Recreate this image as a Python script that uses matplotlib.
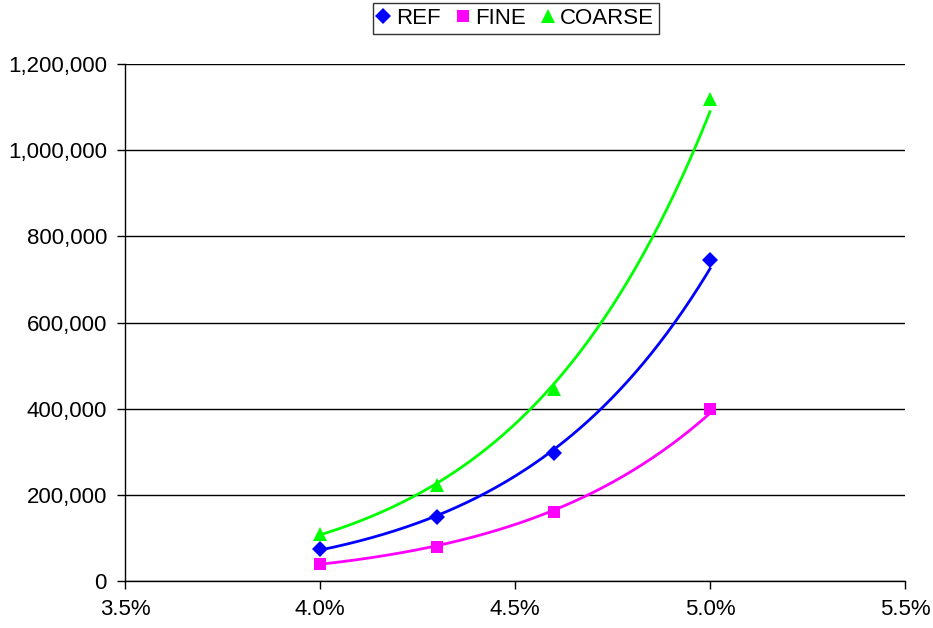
import numpy as np
import matplotlib
matplotlib.use('Agg')
import matplotlib.pyplot as plt
from matplotlib.ticker import FuncFormatter

plt.rcParams['font.family'] = ['Liberation Sans', 'DejaVu Sans']

# growth rate (%) and totals per grid
rate = [4.0, 4.3, 4.6, 5.0]
ref_vals = [74000, 148000, 297000, 745000]
fine_vals = [40000, 80000, 160000, 400000]
coarse_vals = [110000, 222000, 445000, 1118000]

series = [
    ('REF', ref_vals, '#0000FF', 'D', 8),
    ('FINE', fine_vals, '#FF00FF', 's', 9),
    ('COARSE', coarse_vals, '#00FF00', '^', 10),
]

fig = plt.figure(figsize=(9.33, 6.28), dpi=100)
ax = fig.add_axes([0.134, 0.0748, 0.836, 0.823])

x = np.array(rate)
xs = np.linspace(x.min(), x.max(), 200)
for name, vals, color, marker, ms in series:
    y = np.array(vals, dtype=float)
    # power trendline: ln y = b ln x + ln a
    b, lna = np.polyfit(np.log(x), np.log(y), 1)
    ax.plot(xs, np.exp(lna) * xs ** b, color=color, lw=2.0, zorder=2)
    ax.plot(x, y, linestyle='none', marker=marker, color=color,
            markersize=ms, markeredgewidth=0, label=name, zorder=3)

ax.set_xlim(3.5, 5.5)
ax.set_ylim(0, 1200000)
ax.set_xticks(np.arange(3.5, 5.51, 0.5))
ax.set_yticks(np.arange(0, 1200001, 200000))
ax.xaxis.set_major_formatter(FuncFormatter(lambda v, p: '%.1f%%' % v))
ax.yaxis.set_major_formatter(FuncFormatter(lambda v, p: '{:,.0f}'.format(v)))
ax.tick_params(labelsize=16, direction='out', length=6, width=1, color='black', pad=7)

ax.grid(axis='y', color='black', lw=1)
ax.set_axisbelow(True)
for side in ('top', 'right'):
    ax.spines[side].set_visible(False)
for side in ('left', 'bottom'):
    ax.spines[side].set_color('black')
    ax.spines[side].set_linewidth(1)

leg = fig.legend(loc='upper center', bbox_to_anchor=(0.553, 0.995), ncol=3,
                 fontsize=16, frameon=True, fancybox=False, handlelength=0.5,
                 handletextpad=0.3, columnspacing=0.75, borderpad=0.22,
                 borderaxespad=0)
leg.get_frame().set_edgecolor('black')
leg.get_frame().set_linewidth(1)

fig.savefig('out.png', dpi=100)
